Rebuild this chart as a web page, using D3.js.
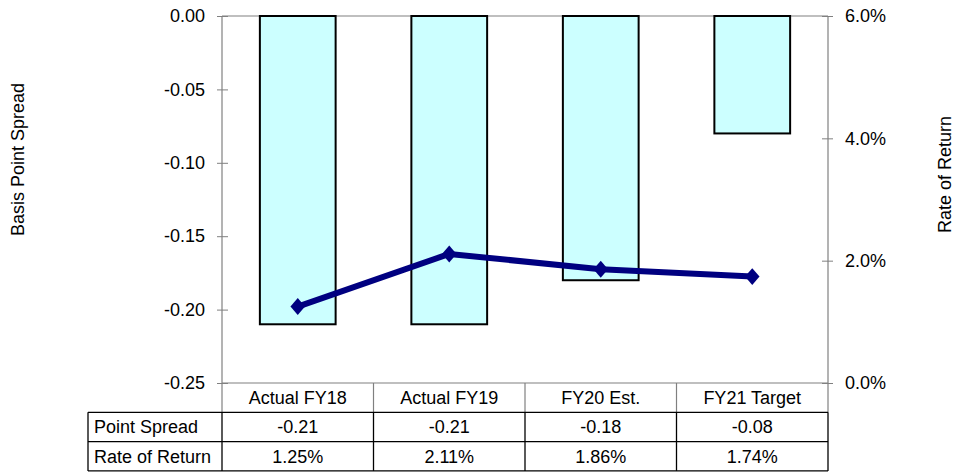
<!DOCTYPE html>
<html>
<head>
<meta charset="utf-8">
<script src="https://cdn.jsdelivr.net/npm/d3@7"></script>
<style>
  html, body { margin: 0; padding: 0; background: #fff; }
  svg { display: block; font-family: "Liberation Sans", Arial, sans-serif; }
</style>
</head>
<body>
<svg id="chart" width="955" height="473"></svg>
<script>
// Fiscal-year categories and the two series shown in the chart and data table
const categories = ["Actual FY18", "Actual FY19", "FY20 Est.", "FY21 Target"];
const pointSpread = [-0.21, -0.21, -0.18, -0.08];
const rateOfReturn = [1.25, 2.11, 1.86, 1.74];
const spreadTicks = [0, -0.05, -0.10, -0.15, -0.20, -0.25];
const rateTicks = [0, 2, 4, 6];
const rowLabels = ["Point Spread", "Rate of Return"];

const svg = d3.select("#chart");
const plot = { left: 222, right: 828, top: 16, bottom: 383 };
const rowH = 29.3;
const tableLeft = 88;
const fs = 18;

// plain hyphen-minus formatting
const fmt2 = v => v.toFixed(2);

const x = d3.scaleBand().domain(categories).range([plot.left, plot.right]).paddingInner(0).paddingOuter(0);
const yL = d3.scaleLinear().domain([-0.25, 0]).range([plot.bottom, plot.top]);
const yR = d3.scaleLinear().domain([0, 6]).range([plot.bottom, plot.top]);

const grey = "#808080";

// Plot-area top frame line
svg.append("line").attr("x1", plot.left).attr("x2", plot.right)
  .attr("y1", plot.top).attr("y2", plot.top).attr("stroke", grey).attr("stroke-width", 1.2);

// Bars: hang down from zero
svg.append("g").selectAll("rect").data(categories).join("rect")
  .attr("x", d => x(d) + x.bandwidth() * 0.25)
  .attr("width", x.bandwidth() * 0.5)
  .attr("y", yL(0))
  .attr("height", (d, i) => yL(pointSpread[i]) - yL(0))
  .attr("fill", "#ccffff")
  .attr("stroke", "#000")
  .attr("stroke-width", 2);

// Left axis
const leftAxis = d3.axisLeft(yL).tickValues(spreadTicks).tickFormat(fmt2).tickSize(5).tickPadding(12);
const gl = svg.append("g").attr("transform", `translate(${plot.left},0)`).call(leftAxis);
gl.select(".domain").remove();
gl.selectAll(".tick line").attr("x2", -5).attr("x1", 6).attr("stroke", grey);
gl.selectAll(".tick text").attr("font-size", fs).attr("fill", "#000");
svg.append("line").attr("x1", plot.left).attr("x2", plot.left)
  .attr("y1", plot.top).attr("y2", plot.bottom + rowH).attr("stroke", grey).attr("stroke-width", 1.2);

// Right axis
const rightAxis = d3.axisRight(yR).tickValues(rateTicks).tickFormat(d => d.toFixed(1) + "%").tickSize(5).tickPadding(12);
const gr = svg.append("g").attr("transform", `translate(${plot.right},0)`).call(rightAxis);
gr.select(".domain").remove();
gr.selectAll(".tick line").attr("x1", -6).attr("x2", 5).attr("stroke", grey);
gr.selectAll(".tick text").attr("font-size", fs).attr("fill", "#000");
svg.append("line").attr("x1", plot.right).attr("x2", plot.right)
  .attr("y1", plot.top).attr("y2", plot.bottom + rowH).attr("stroke", grey).attr("stroke-width", 1.2);
svg.selectAll("g").attr("font-family", null);

// Axis titles
svg.append("text").attr("transform", `translate(24,${(plot.top + plot.bottom) / 2 - 40}) rotate(-90)`)
  .attr("text-anchor", "middle").attr("font-size", fs).text("Basis Point Spread");
svg.append("text").attr("transform", `translate(951,${(plot.top + plot.bottom) / 2 - 25}) rotate(-90)`)
  .attr("text-anchor", "middle").attr("font-size", fs).text("Rate of Return");

// Rate of return line with diamond markers
const line = d3.line().x((d, i) => x(categories[i]) + x.bandwidth() / 2).y(d => yR(d));
svg.append("path").datum(rateOfReturn).attr("d", line)
  .attr("fill", "none").attr("stroke", "#000080").attr("stroke-width", 6).attr("stroke-linejoin", "round");
svg.append("g").selectAll("path").data(rateOfReturn).join("path")
  .attr("d", d3.symbol(d3.symbolDiamond2, 150))
  .attr("transform", (d, i) => `translate(${x(categories[i]) + x.bandwidth() / 2},${yR(d)}) scale(0.95,1.1)`)
  .attr("fill", "#000080");

// Data table below the plot
const table = svg.append("g");
const catY = plot.bottom;
// category header row
table.append("line").attr("x1", plot.left).attr("x2", plot.right)
  .attr("y1", catY).attr("y2", catY).attr("stroke", grey).attr("stroke-width", 1.2);
categories.slice(1).forEach(c => {
  table.append("line").attr("x1", x(c)).attr("x2", x(c))
    .attr("y1", catY).attr("y2", catY + rowH).attr("stroke", grey).attr("stroke-width", 1.2);
});
table.selectAll("text.cat").data(categories).join("text").attr("class", "cat")
  .attr("x", d => x(d) + x.bandwidth() / 2).attr("y", catY + rowH / 2 + 6.5)
  .attr("text-anchor", "middle").attr("font-size", fs).text(d => d);

// value rows
const rows = [pointSpread.map(fmt2), rateOfReturn.map(v => v.toFixed(2) + "%")];
const top0 = catY + rowH;
const nRows = rows.length;
for (let r = 0; r <= nRows; r++) {
  table.append("line").attr("x1", tableLeft).attr("x2", plot.right)
    .attr("y1", top0 + r * rowH).attr("y2", top0 + r * rowH).attr("stroke", "#000").attr("stroke-width", 1.3);
}
[tableLeft, ...categories.map(c => x(c)), plot.right].forEach(xx => {
  table.append("line").attr("x1", xx).attr("x2", xx)
    .attr("y1", top0).attr("y2", top0 + nRows * rowH).attr("stroke", "#000").attr("stroke-width", 1.3);
});
rows.forEach((vals, r) => {
  const ty = top0 + r * rowH + rowH / 2 + 6.5;
  table.append("text").attr("x", tableLeft + 6).attr("y", ty).attr("font-size", fs).text(rowLabels[r]);
  vals.forEach((v, i) => {
    table.append("text").attr("x", x(categories[i]) + x.bandwidth() / 2).attr("y", ty)
      .attr("text-anchor", "middle").attr("font-size", fs).text(v);
  });
});
</script>
</body>
</html>
